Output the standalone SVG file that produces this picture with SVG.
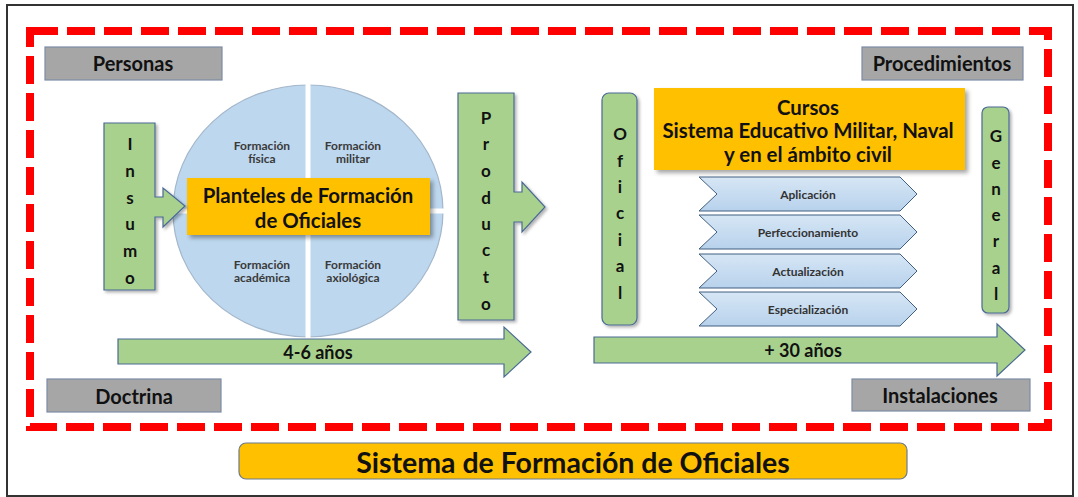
<svg xmlns="http://www.w3.org/2000/svg" width="1078" height="497" viewBox="0 0 1078 497">
<defs>
<style>
text{font-family:Lato,"Open Sans","Liberation Sans",sans-serif;font-weight:bold;fill:#111;text-anchor:middle;dominant-baseline:central}
.gray{fill:#A6A6A6;stroke:#7D8CA3;stroke-width:1.2}
.green{fill:#A9D18E;stroke:#4A6A94;stroke-width:1.2}
.orange{fill:#FFC000;stroke:none}
.chev{fill:url(#chevGrad);stroke:#415F80;stroke-width:1}
.lbl{font-size:20px}
.yr{font-size:18px}
.big{font-size:20.4px}
.vl{font-size:17px}
.q{font-size:12px;fill:#3a3a3a}
.cv{font-size:12px;fill:#333}
</style>
<linearGradient id="chevGrad" x1="0" y1="0" x2="0" y2="1">
<stop offset="0" stop-color="#D6E6F5"/>
<stop offset="1" stop-color="#B8D2EC"/>
</linearGradient>
<filter id="shadow" x="-10%" y="-20%" width="125%" height="150%">
<feDropShadow dx="3" dy="3" stdDeviation="2" flood-color="#000" flood-opacity="0.35"/>
</filter>
<filter id="shadowSm" x="-20%" y="-10%" width="150%" height="130%">
<feDropShadow dx="2" dy="2" stdDeviation="1.5" flood-color="#000" flood-opacity="0.3"/>
</filter>
</defs>

<rect x="0" y="0" width="1078" height="497" fill="#fff"/>
<rect id="frame" x="7" y="5" width="1066" height="491" fill="none" stroke="#333" stroke-width="2"/>
<rect id="boundary" x="30" y="31" width="1018" height="396" fill="none" stroke="#FF0000" stroke-width="8" stroke-dasharray="28 9"/>

<g id="personas"><rect class="gray" x="45" y="47" width="177" height="33"/><text class="lbl" x="133" y="63">Personas</text></g>
<g id="procedimientos"><rect class="gray" x="862" y="47" width="161" height="33"/><text class="lbl" x="942" y="63">Procedimientos</text></g>
<g id="doctrina"><rect class="gray" x="47" y="379" width="174" height="33"/><text class="lbl" x="134" y="396">Doctrina</text></g>
<g id="instalaciones"><rect class="gray" x="852" y="379" width="178" height="32"/><text class="lbl" x="940" y="395">Instalaciones</text></g>

<g id="circulo">
<ellipse cx="308" cy="211" rx="135" ry="126" fill="#BDD7EE" stroke="#A3B6CA" stroke-width="1.2"/>
<line x1="308" y1="84" x2="308" y2="338" stroke="#fff" stroke-width="5"/>
<line x1="172" y1="211" x2="444" y2="211" stroke="#fff" stroke-width="5"/>
<text class="q" x="262" y="145">Formación</text>
<text class="q" x="262" y="158">física</text>
<text class="q" x="353" y="145">Formación</text>
<text class="q" x="353" y="158">militar</text>
<text class="q" x="262" y="264">Formación</text>
<text class="q" x="262" y="277">académica</text>
<text class="q" x="353" y="264">Formación</text>
<text class="q" x="353" y="277">axiológica</text>
</g>

<g id="planteles">
<rect class="orange" x="187" y="178" width="243" height="57" filter="url(#shadow)"/>
<text class="big" x="308" y="195">Planteles de Formación</text>
<text class="big" x="308" y="220">de Oficiales</text>
</g>

<g id="insumo">
<path class="green" d="M104,123 H155 V197 H163 V188 L185,206 L163,227 V217 H155 V290 H104 Z" filter="url(#shadowSm)"/>
<text class="vl" x="130" y="143">I</text>
<text class="vl" x="130" y="170">n</text>
<text class="vl" x="130" y="197">s</text>
<text class="vl" x="130" y="223">u</text>
<text class="vl" x="130" y="250">m</text>
<text class="vl" x="130" y="277">o</text>
</g>

<g id="producto">
<path class="green" d="M458,93 H514 V192 H522 V182 L545,207 L522,232 V222 H514 V320 H458 Z" filter="url(#shadowSm)"/>
<text class="vl" x="486" y="117">P</text>
<text class="vl" x="486" y="143">r</text>
<text class="vl" x="486" y="170">o</text>
<text class="vl" x="486" y="197">d</text>
<text class="vl" x="486" y="223">u</text>
<text class="vl" x="486" y="249">c</text>
<text class="vl" x="486" y="276">t</text>
<text class="vl" x="486" y="303">o</text>
</g>

<g id="oficial">
<rect class="green" x="602" y="93" width="35" height="232" rx="7" filter="url(#shadowSm)"/>
<text class="vl" x="620" y="133">O</text>
<text class="vl" x="620" y="160">f</text>
<text class="vl" x="620" y="186">i</text>
<text class="vl" x="620" y="212">c</text>
<text class="vl" x="620" y="239">i</text>
<text class="vl" x="620" y="265">a</text>
<text class="vl" x="620" y="292">l</text>
</g>

<g id="cursos">
<rect class="orange" x="654" y="88" width="311" height="82" filter="url(#shadow)"/>
<text class="big" x="808" y="107">Cursos</text>
<text class="big" x="808" y="130">Sistema Educativo Militar, Naval</text>
<text class="big" x="808" y="154">y en el ámbito civil</text>
</g>

<g id="aplicacion"><path class="chev" d="M699,177 H900 L917,194 L900,211 H699 L717,194 Z"/><text class="cv" x="808" y="194">Aplicación</text></g>
<g id="perfeccionamiento"><path class="chev" d="M699,215 H900 L917,232 L900,249 H699 L717,232 Z"/><text class="cv" x="808" y="232">Perfeccionamiento</text></g>
<g id="actualizacion"><path class="chev" d="M699,254 H900 L917,271 L900,288 H699 L717,271 Z"/><text class="cv" x="808" y="271">Actualización</text></g>
<g id="especializacion"><path class="chev" d="M699,292 H900 L917,309 L900,326 H699 L717,309 Z"/><text class="cv" x="808" y="309">Especialización</text></g>

<g id="general">
<rect class="green" x="982" y="107" width="27" height="206" rx="6" filter="url(#shadowSm)"/>
<text class="vl" x="996" y="135">G</text>
<text class="vl" x="996" y="162">e</text>
<text class="vl" x="996" y="188">n</text>
<text class="vl" x="996" y="214">e</text>
<text class="vl" x="996" y="240">r</text>
<text class="vl" x="996" y="267">a</text>
<text class="vl" x="996" y="293">l</text>
</g>

<g id="connectors">
<g id="anos46"><path class="green" d="M118,339 H504 V327 L531,352 L504,377 V364 H118 Z"/><text class="yr" x="318" y="352">4-6 años</text></g>
<g id="anos30"><path class="green" d="M594,337 H997 V324 L1025,350 L997,376 V363 H594 Z"/><text class="yr" x="803" y="350">+ 30 años</text></g>
</g>

<g id="titulo">
<rect x="239" y="443" width="668" height="36" rx="7" fill="#FFC000" stroke="#6B7B8C" stroke-width="1.2"/>
<text x="573" y="462" style="font-size:28.5px">Sistema de Formación de Oficiales</text>
</g>
</svg>
